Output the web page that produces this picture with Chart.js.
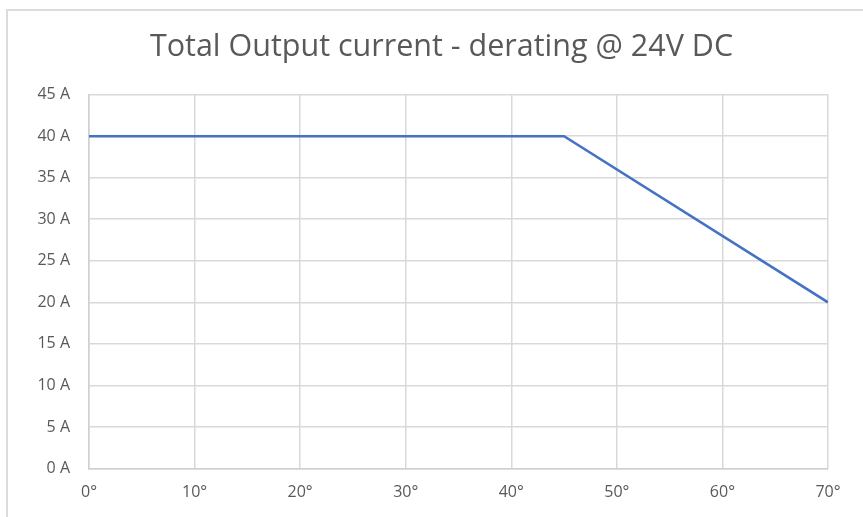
<!DOCTYPE html>
<html>
<head>
<meta charset="utf-8">
<script src="https://cdn.jsdelivr.net/npm/chart.js@4"></script>
<style>
  html, body { margin: 0; padding: 0; background: #fff; overflow: hidden; }
  #marco { position: absolute; left: 6px; top: 9px; right: -10px; bottom: -10px; border: 2px solid #dcdcdc; }
  #caja { position: absolute; left: 0; top: 0; width: 863px; height: 517px; }
</style>
</head>
<body>
<div id="marco"></div>
<div id="caja"><canvas id="grafico" width="863" height="517"></canvas></div>
<script>
// Datos
const temperaturas = [0, 45, 70];
const corriente = [40, 40, 20];
const ticksX = [0, 10, 20, 30, 40, 50, 60, 70];
const ticksY = [0, 5, 10, 15, 20, 25, 30, 35, 40, 45];

const gris = '#595959';
const fuente = '"Open Sans", sans-serif';

const puntos = temperaturas.map((t, i) => ({ x: t, y: corriente[i] }));

const data = {
    datasets: [{
        label: 'Total Output current',
        data: puntos,
        borderColor: '#4472c4',
        borderWidth: 2.5,
        pointRadius: 0,
        tension: 0,
        fill: false
    }]
};

const config = {
    type: 'line',
    data: data,
    options: {
        responsive: false,
        animation: false,
        layout: { padding: { left: 20, right: 0, top: 0, bottom: 0 } },
        plugins: {
            legend: { display: false },
            tooltip: { enabled: false },
            title: {
                display: true,
                text: 'Total Output current - derating @ 24V DC',
                color: gris,
                font: { family: fuente, size: 30.5, weight: 'normal', lineHeight: 1.2 },
                padding: { top: 29, bottom: 29 }
            }
        },
        scales: {
            x: {
                type: 'linear',
                min: 0,
                max: 70,
                afterBuildTicks: s => { s.ticks = ticksX.map(v => ({ value: v })); },
                // espacio a la derecha del area del grafico
                afterFit: s => { s.height = 48.5; s.paddingRight = 35; },
                ticks: {
                    color: gris,
                    font: { family: fuente, size: 16 },
                    padding: 14,
                    callback: v => v + '°'
                },
                grid: { color: '#d9d9d9', lineWidth: 1.5, drawTicks: false },
                border: { color: '#d0d0d0', width: 1.5 }
            },
            y: {
                min: 0,
                max: 45,
                afterBuildTicks: s => { s.ticks = ticksY.map(v => ({ value: v })); },
                afterFit: s => { s.width = 69; },
                ticks: {
                    color: gris,
                    font: { family: fuente, size: 16 },
                    padding: 19,
                    callback: v => v + ' A'
                },
                grid: { color: '#d9d9d9', lineWidth: 1.5, drawTicks: false },
                border: { color: '#d0d0d0', width: 1.5 }
            }
        }
    }
};

const ctx = document.getElementById('grafico').getContext('2d');
new Chart(ctx, config);
</script>
</body>
</html>
